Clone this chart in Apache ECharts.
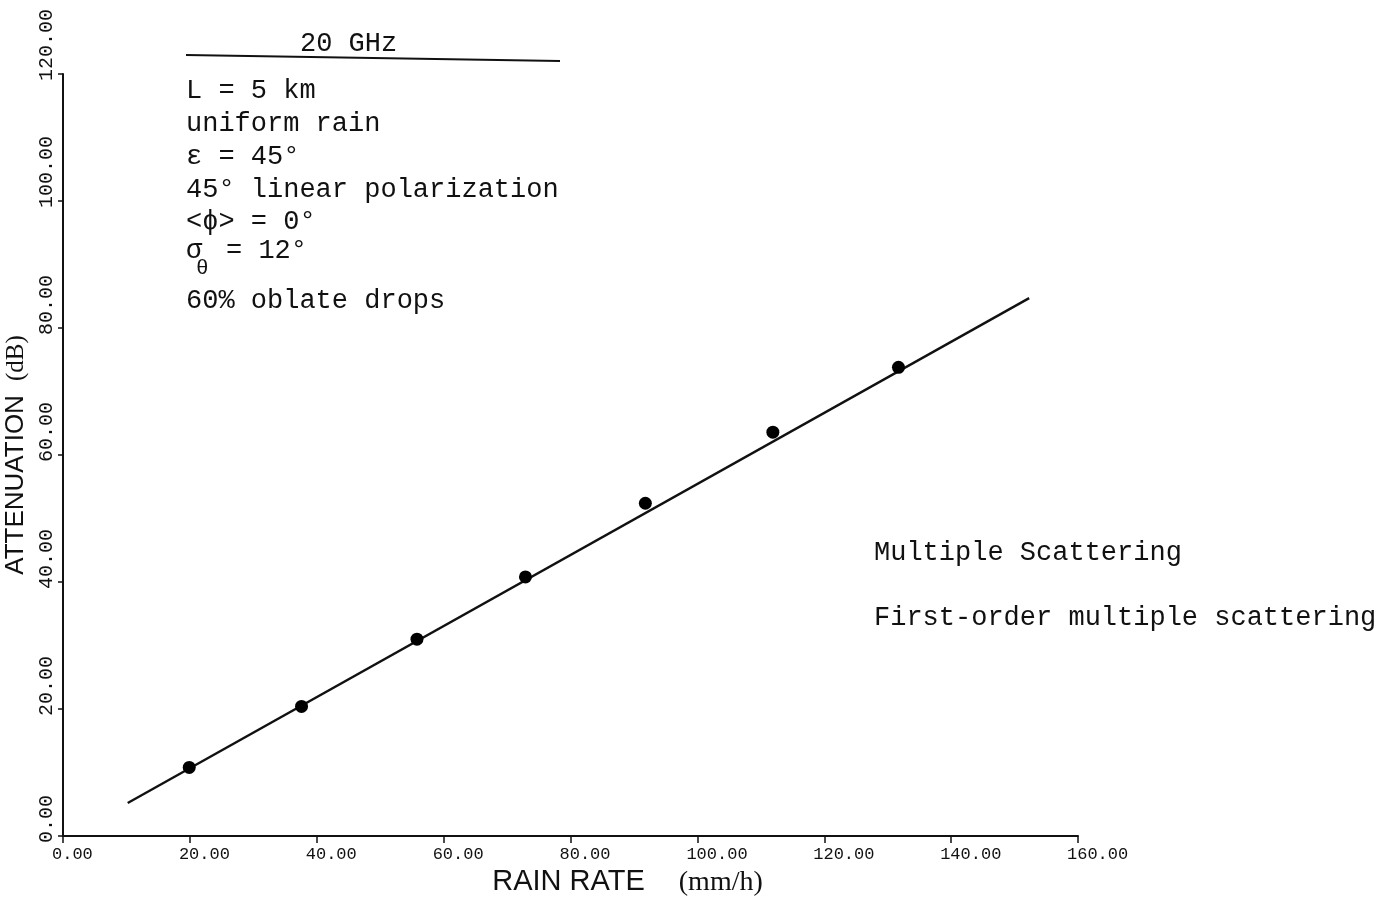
<!DOCTYPE html>
<html>
<head>
<meta charset="utf-8">
<title>Attenuation vs rain rate, 20 GHz</title>
<script src="https://cdn.jsdelivr.net/npm/echarts@6/dist/echarts.min.js"></script>
<style>
  html, body { margin: 0; padding: 0; background: #fff; }
  #chart { width: 1385px; height: 899px; }
</style>
</head>
<body>
<div id="chart"></div>
<script>
// Computed points: multiple scattering (rain rate mm/h, attenuation dB)
const rainRate = [19.9, 37.6, 55.8, 72.9, 91.8, 111.9, 131.7];
const attenuation = [10.8, 20.4, 31.0, 40.8, 52.4, 63.6, 73.8];

// First-order multiple scattering curve (end points of the straight line)
const firstOrderX = [10.2, 152.3];
const firstOrderY = [5.2, 84.7];

// Axis ranges and ticks
const xTicks = [0, 20, 40, 60, 80, 100, 120, 140, 160];
const yTicks = [0, 20, 40, 60, 80, 100, 120];

// Parameter block
const headerText = '20 GHz';
const paramLines = [
  'L = 5 km',
  'uniform rain',
  'ε = 45°',
  '45° linear polarization',
  '<ϕ> = 0°'
];
const lastLine = '60% oblate drops';
const legendLines = ['Multiple Scattering', 'First-order multiple scattering'];

const mono = '"Liberation Mono", "DejaVu Sans Mono", monospace';
const INK = '#111';

const chart = echarts.init(document.getElementById('chart'), null, { renderer: 'canvas' });

const paramY = [91, 124, 157, 190, 222];
const graphics = [
  { type: 'text', left: 300, top: 30, style: { text: headerText, font: '27px ' + mono, fill: INK } },
  { type: 'line', shape: { x1: 186, y1: 55, x2: 560, y2: 61 }, style: { stroke: INK, lineWidth: 2 } }
];
paramLines.forEach((t, i) => {
  graphics.push({ type: 'text', x: 186, y: paramY[i], style: { text: t, font: '27px ' + mono, fill: INK, textVerticalAlign: 'middle' } });
});
graphics.push(
  { type: 'text', x: 186, y: 251, style: { text: 'σ', font: '27px ' + mono, fill: INK, textVerticalAlign: 'middle' } },
  { type: 'text', x: 196, y: 268, style: { text: 'θ', font: '21px ' + mono, fill: INK, textVerticalAlign: 'middle' } },
  { type: 'text', x: 226, y: 251, style: { text: '= 12°', font: '27px ' + mono, fill: INK, textVerticalAlign: 'middle' } },
  { type: 'text', x: 186, y: 301, style: { text: lastLine, font: '27px ' + mono, fill: INK, textVerticalAlign: 'middle' } },
  { type: 'text', x: 874, y: 553, style: { text: legendLines[0], font: '27px ' + mono, fill: INK, textVerticalAlign: 'middle' } },
  { type: 'text', x: 874, y: 618, style: { text: legendLines[1], font: '27px ' + mono, fill: INK, textVerticalAlign: 'middle' } }
);

const option = {
  backgroundColor: '#ffffff',
  animation: false,
  grid: { left: 63, right: 307, top: 74, bottom: 63, containLabel: false, outerBoundsMode: 'none' },
  xAxis: {
    type: 'value',
    min: xTicks[0],
    max: xTicks[xTicks.length - 1],
    interval: 20,
    name: '{a|RAIN RATE}{s| }{b|(mm/h)}',
    nameLocation: 'middle',
    nameGap: 31,
    nameTextStyle: {
      padding: [0, 0, 0, 114],
      rich: {
        a: { fontFamily: '"Liberation Sans", Arial, sans-serif', fontSize: 29, color: INK },
        s: { fontSize: 28, width: 34 },
        b: { fontFamily: '"Liberation Serif", serif', fontSize: 28, color: INK }
      }
    },
    axisLine: { show: true, onZero: false, lineStyle: { color: INK, width: 2 } },
    axisTick: { show: true, inside: false, length: 7, lineStyle: { color: INK, width: 1.5 } },
    splitLine: { show: false },
    axisLabel: {
      show: true,
      margin: 10,
      align: 'left',
      padding: [0, 0, 0, -11],
      fontFamily: mono,
      fontSize: 17,
      color: INK,
      formatter: v => v.toFixed(2)
    }
  },
  yAxis: {
    type: 'value',
    min: yTicks[0],
    max: yTicks[yTicks.length - 1],
    interval: 20,
    name: '{a|ATTENUATION}{s| }{b|(dB)}',
    nameLocation: 'middle',
    nameRotate: 90,
    nameGap: 24,
    nameTextStyle: {
      rich: {
        a: { fontFamily: '"Liberation Sans", Arial, sans-serif', fontSize: 26, color: INK },
        s: { fontSize: 26, width: 14 },
        b: { fontFamily: '"Liberation Serif", serif', fontSize: 25, color: INK }
      }
    },
    axisLine: { show: true, onZero: false, lineStyle: { color: INK, width: 2 } },
    axisTick: { show: true, inside: false, length: 5, lineStyle: { color: INK, width: 1.5 } },
    splitLine: { show: false },
    axisLabel: {
      show: true,
      rotate: 90,
      margin: 6,
      align: 'left',
      verticalAlign: 'bottom',
      padding: [0, 0, 0, -7],
      fontFamily: mono,
      fontSize: 20,
      color: INK,
      formatter: v => v.toFixed(2)
    }
  },
  series: [
    {
      name: legendLines[1],
      type: 'line',
      data: firstOrderX.map((x, i) => [x, firstOrderY[i]]),
      showSymbol: false,
      symbol: 'none',
      lineStyle: { color: INK, width: 2.4 },
      z: 2
    },
    {
      name: legendLines[0],
      type: 'scatter',
      data: rainRate.map((x, i) => [x, attenuation[i]]),
      symbol: 'circle',
      symbolSize: 13,
      itemStyle: { color: '#000', opacity: 1 },
      z: 3
    }
  ],
  graphic: graphics
};

chart.setOption(option);
</script>
</body>
</html>
